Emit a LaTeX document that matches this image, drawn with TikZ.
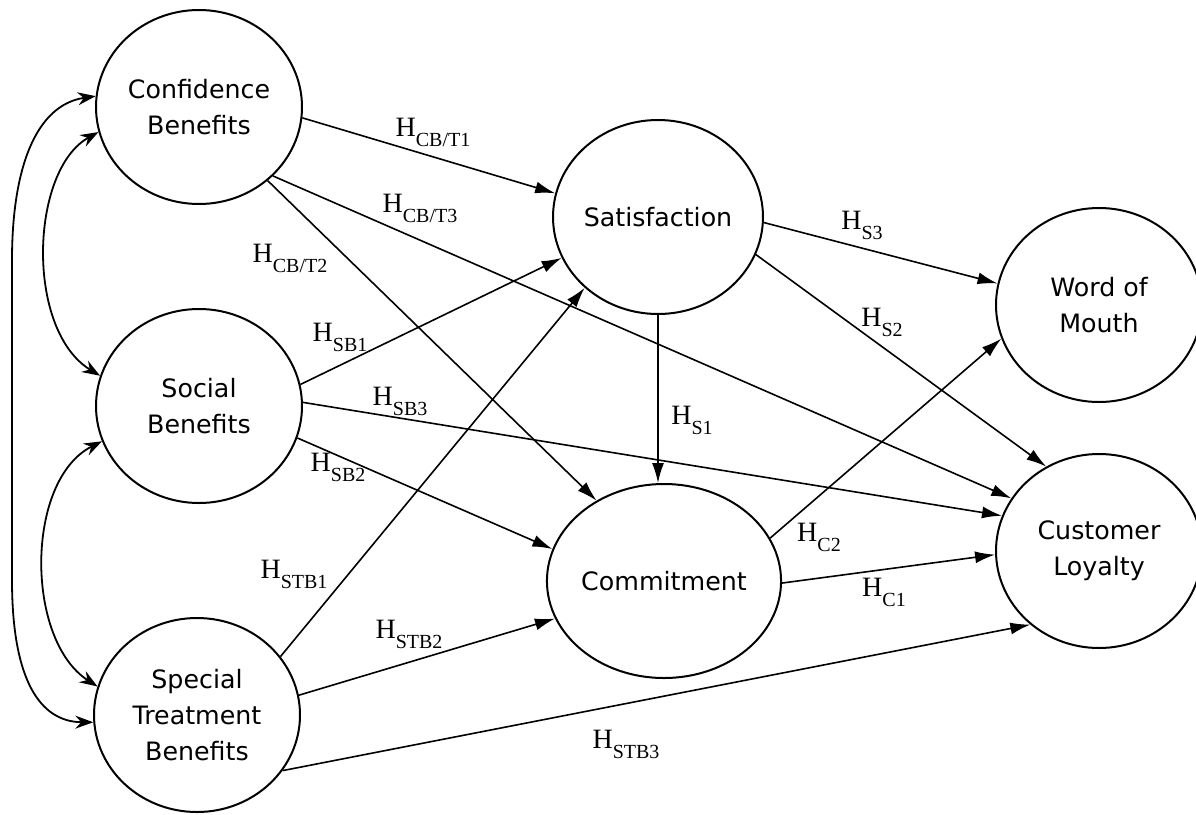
\documentclass[tikz,border=0pt]{standalone}
\usepackage{fontspec}
\setmainfont{Liberation Serif}
\newfontfamily\nodefont{DejaVu Sans}
\usetikzlibrary{shapes.geometric,arrows.meta}
\newcommand\hyp[1]{H\raisebox{-10pt}{\fontsize{20}{20}\selectfont #1}}
\tikzset{
  construct/.style={ellipse,draw,line width=2pt,minimum width=206pt,minimum height=194pt,
    inner sep=0pt,align=center,font=\nodefont\fontsize{25.3}{36}\selectfont},
  hyparrow/.style={line width=1.6pt,-{Latex[length=20pt,width=12pt]}},
  corrarrow/.style={line width=1.8pt,{Stealth[length=18pt,width=13pt,inset=6pt]}-{Stealth[length=18pt,width=13pt,inset=6pt]}},
  lab/.style={font=\fontsize{28}{28}\selectfont,inner sep=0pt}
}
\begin{document}
\begin{tikzpicture}[x=1pt,y=-1pt]
\useasboundingbox (0,0) rectangle (1196,814);
\node[construct] (CB)  at (199,107) {Confidence\\Benefits};
\node[construct] (SB)  at (199,406) {Social\\Benefits};
\node[construct] (STB) at (197,715) {Special\\Treatment\\Benefits};
\node[construct] (Sat) at (658,217) {Satisfaction};
\node[construct] (Com) at (664,581) {Commitment};
\node[construct] (WoM) at (1099,305) {Word of\\Mouth};
\node[construct] (CL)  at (1099,551) {Customer\\Loyalty};

% correlations
\draw[corrarrow] (CB.174) .. controls (35,105) and (12,170) .. (12,260) -- (12,580) .. controls (12,680) and (40,722) .. (STB.184);
\draw[corrarrow] (CB.194) .. controls (30,170) and (25,330) .. (SB.163);
\draw[corrarrow] (SB.200) .. controls (25,480) and (25,640) .. (STB.164);

% hypotheses
\draw[hyparrow] (CB.-6) -- (Sat.167);
\draw[hyparrow] (CB.-43) -- (CL.149);
\draw[hyparrow] (CB.-47) -- (Com.130);
\draw[hyparrow] (SB.12) -- (Sat.203);
\draw[hyparrow] (SB.2) -- (CL.160);
\draw[hyparrow] (SB.-18) -- (Com.164);
\draw[hyparrow] (STB.35) -- (Sat.224);
\draw[hyparrow] (STB.11) -- (Com.199);
\draw[hyparrow] (STB.-33) -- (CL.227);
\draw[hyparrow] (Sat.-3) -- (WoM.168);
\draw[hyparrow] (Sat.-21) -- (CL.122);
\draw[hyparrow] (Sat.south) -- (Sat.south |- Com.north);
\draw[hyparrow] (Com.22) -- (WoM.199);
\draw[hyparrow] (Com.-1) -- (CL.182);

% labels
\node[lab] (l1) at (433,132) {\hyp{CB/T1}};
\node[lab] (l2) at (420,208) {\hyp{CB/T3}};
\node[lab] (l3) at (290,258) {\hyp{CB/T2}};
\node[lab] (l4) at (340,337) {\hyp{SB1}};
\node[lab] (l5) at (400,401) {\hyp{SB3}};
\node[lab] (l6) at (338,467) {\hyp{SB2}};
\node[lab] (l7) at (294,574) {\hyp{STB1}};
\node[lab] (l8) at (409,634) {\hyp{STB2}};
\node[lab] (l9) at (626,744) {\hyp{STB3}};
\node[lab] (l10) at (862,225) {\hyp{S3}};
\node[lab] (l11) at (882,322) {\hyp{S2}};
\node[lab] (l12) at (692,420) {\hyp{S1}};
\node[lab] (l13) at (819,537) {\hyp{C2}};
\node[lab] (l14) at (884,592) {\hyp{C1}};
\end{tikzpicture}
\end{document}
